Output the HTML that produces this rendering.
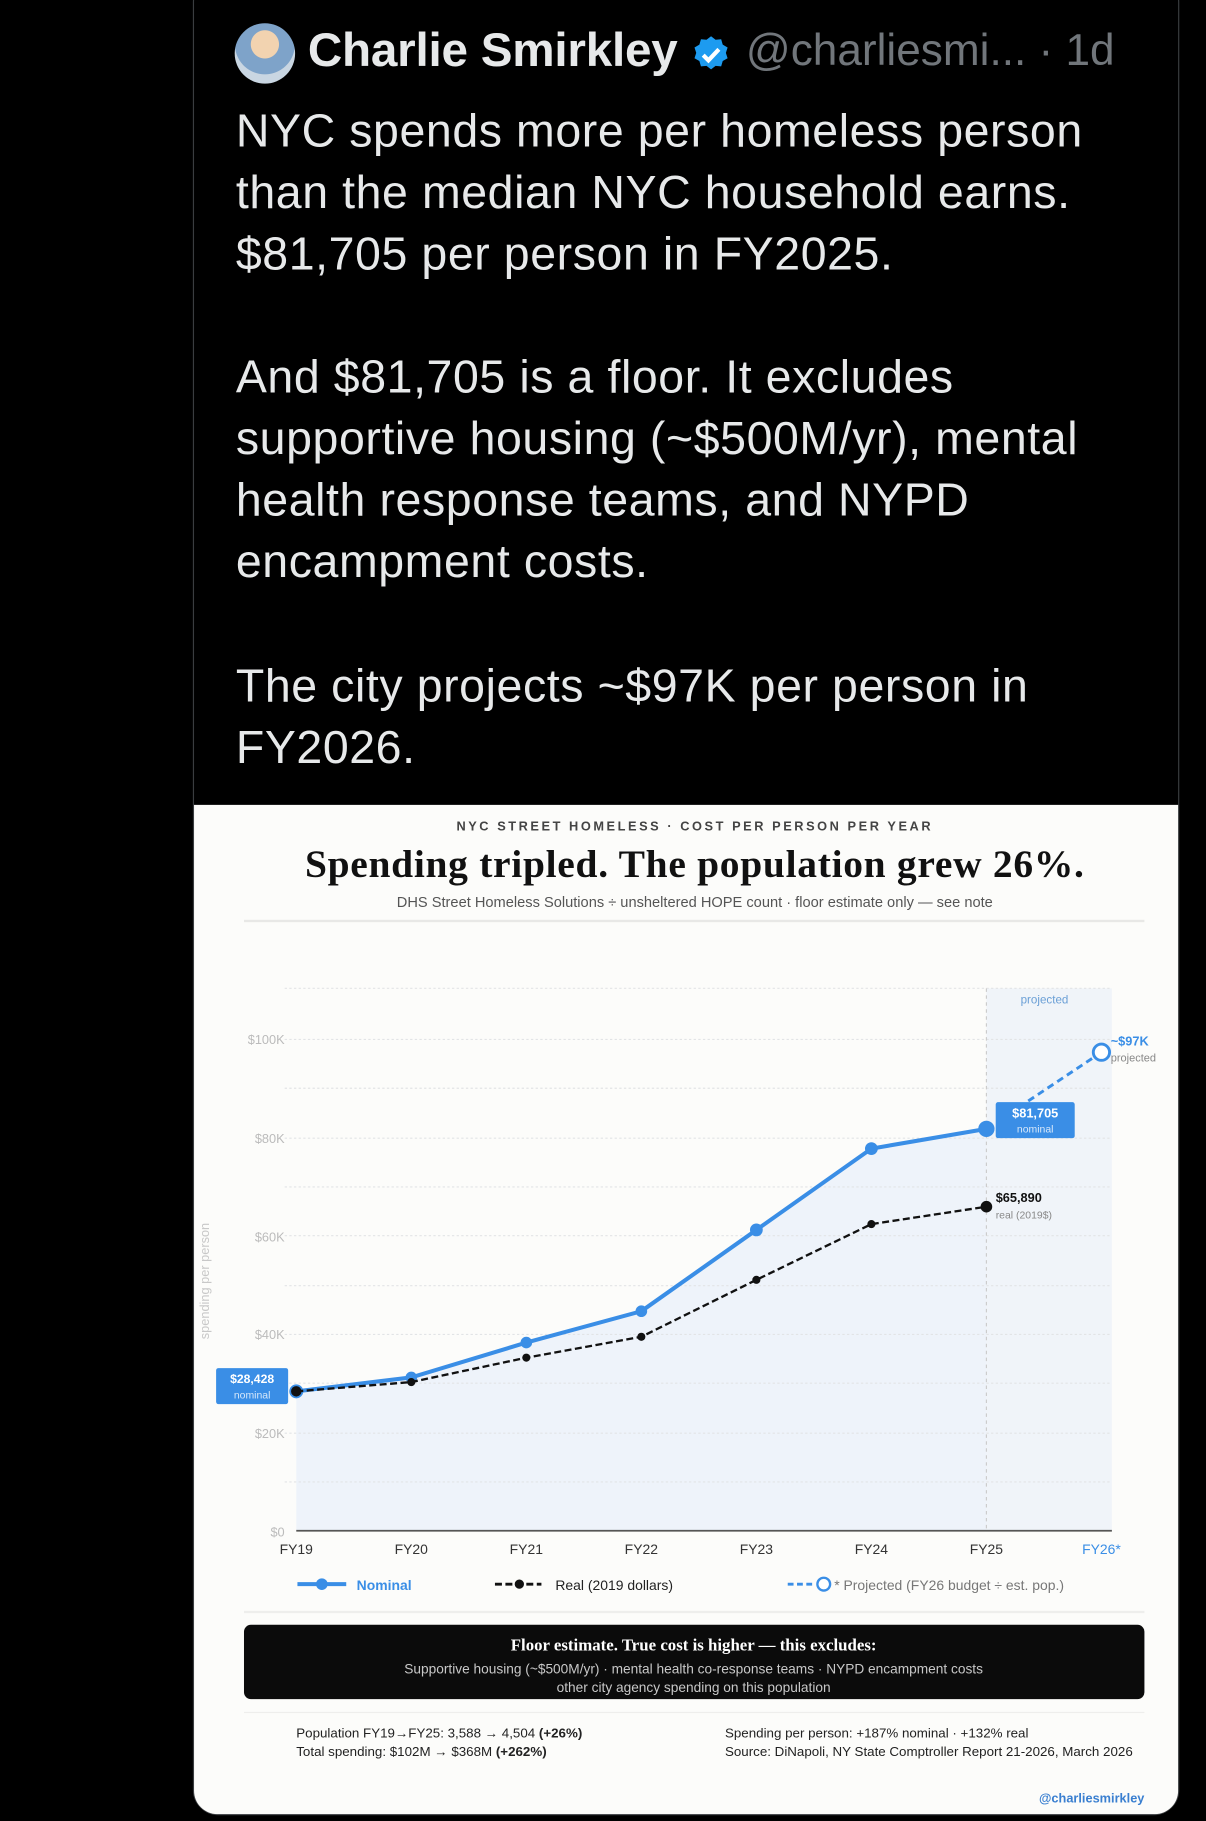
<!DOCTYPE html>
<html><head><meta charset="utf-8"><style>
*{margin:0;padding:0;box-sizing:border-box}
html,body{width:1206px;height:1821px;background:#000;overflow:hidden}
#w{position:absolute;left:0;top:0;width:1038px;height:1568px;transform:scale(1.16185,1.1614);transform-origin:0 0;font-family:"Liberation Sans",sans-serif}
.a{position:absolute;white-space:nowrap}
.tw{color:#e7e9ea;font-size:40px;letter-spacing:0.5px;line-height:53px;left:203px}
</style></head><body><div id="w">
<div class="a" style="left:166px;top:-20px;width:849px;height:1583px;border:1.5px solid #3a3d40;border-radius:22px;background:#000"></div>
<div class="a" style="left:167px;top:693px;width:847px;height:869px;background:#fcfcfa;border-radius:0 0 20px 20px"></div>
<div class="a" style="left:202px;top:20px;width:52px;height:52px;border-radius:50%;background:radial-gradient(circle at 50% 35%,#f2d3b0 0 28%,#7ea3c9 29% 60%,#c9d6e2 61%)"></div>
<div class="a" style="left:265px;top:20px;font-size:41px;font-weight:bold;color:#e7e9ea;letter-spacing:-0.2px">Charlie Smirkley</div>
<svg class="a" style="left:594px;top:29px" width="36" height="36" viewBox="0 0 24 24"><path d="M12 1.5l2.6 2 3.2-.3.9 3.1 2.8 1.6-1 3.1 1 3.1-2.8 1.6-.9 3.1-3.2-.3-2.6 2-2.6-2-3.2.3-.9-3.1-2.8-1.6 1-3.1-1-3.1 2.8-1.6.9-3.1 3.2.3z" fill="#1d9bf0"/><path d="M7.5 12.3l3 3 6-6.3" stroke="#fff" stroke-width="2.4" fill="none"/></svg>
<div class="a" style="left:642px;top:23px;font-size:38px;color:#71767b">@charliesmi... · 1d</div>
<div class="a tw" style="top:87px">NYC spends more per homeless person</div>
<div class="a tw" style="top:140px">than the median NYC household earns.</div>
<div class="a tw" style="top:193px">$81,705 per person in FY2025.</div>
<div class="a tw" style="top:299px">And $81,705 is a floor. It excludes</div>
<div class="a tw" style="top:352px">supportive housing (~$500M/yr), mental</div>
<div class="a tw" style="top:405px">health response teams, and NYPD</div>
<div class="a tw" style="top:458px">encampment costs.</div>
<div class="a tw" style="top:565px">The city projects ~$97K per person in</div>
<div class="a tw" style="top:618px">FY2026.</div>

<div class="a" style="left:167px;width:862px;text-align:center;top:706px;font-size:11px;font-weight:bold;letter-spacing:2.2px;color:#444">NYC STREET HOMELESS · COST PER PERSON PER YEAR</div>
<div class="a" style="left:167px;width:862px;text-align:center;top:726px;font-size:34px;letter-spacing:0.6px;font-weight:bold;font-family:'Liberation Serif',serif;color:#111">Spending tripled. The population grew 26%.</div>
<div class="a" style="left:167px;width:862px;text-align:center;top:770px;font-size:12.6px;color:#555">DHS Street Homeless Solutions ÷ unsheltered HOPE count · floor estimate only — see note</div>
<div class="a" style="left:210px;top:792px;width:775px;height:2px;background:#e8e8e6"></div>

<svg class="a" style="left:0;top:0" width="1038" height="1568" font-family="Liberation Sans, sans-serif">
<rect x="849" y="851" width="108" height="467" fill="#f0f4f9"/>
<polygon points="255,1198 354,1186 453,1156 552,1129 651,1059 750,989 849,972 849,1318 255,1318" fill="#eef3fa"/>
<g stroke="#e2e4e6" stroke-dasharray="2,2" stroke-width="1">
<line x1="245" y1="851" x2="957" y2="851"/><line x1="245" y1="895" x2="957" y2="895"/><line x1="245" y1="937" x2="957" y2="937"/><line x1="245" y1="980" x2="957" y2="980"/><line x1="245" y1="1022" x2="957" y2="1022"/><line x1="245" y1="1064" x2="957" y2="1064"/><line x1="245" y1="1107" x2="957" y2="1107"/><line x1="245" y1="1149" x2="957" y2="1149"/><line x1="245" y1="1191" x2="957" y2="1191"/><line x1="245" y1="1234" x2="957" y2="1234"/><line x1="245" y1="1276" x2="957" y2="1276"/></g>
<line x1="849" y1="851" x2="849" y2="1318" stroke="#ccc" stroke-dasharray="3,3"/>
<line x1="255" y1="1318" x2="957" y2="1318" stroke="#555" stroke-width="1.5"/>
<g font-size="11" fill="#bbb" text-anchor="end"><text x="245" y="899">$100K</text><text x="245" y="984">$80K</text><text x="245" y="1069">$60K</text><text x="245" y="1153">$40K</text><text x="245" y="1238">$20K</text><text x="245" y="1323">$0</text></g>
<text transform="translate(180,1103) rotate(-90)" font-size="11" fill="#c8c8c8" text-anchor="middle">spending per person</text>
<text x="899" y="864" font-size="10" fill="#6a9fd6" text-anchor="middle">projected</text>
<polyline points="255,1198 354,1186 453,1156 552,1129 651,1059 750,989 849,972" fill="none" stroke="#3a8ee6" stroke-width="3.5"/>
<g fill="#3a8ee6"><circle cx="354" cy="1186" r="5"/><circle cx="453" cy="1156" r="5"/><circle cx="552" cy="1129" r="5"/><circle cx="651" cy="1059" r="5.5"/><circle cx="750" cy="989" r="5.5"/><circle cx="849" cy="972" r="7"/><circle cx="255" cy="1198" r="6"/></g>
<polyline points="255,1198 354,1190 453,1169 552,1151 651,1102 750,1054 849,1039" fill="none" stroke="#111" stroke-width="2" stroke-dasharray="6,3"/>
<g fill="#111"><circle cx="255" cy="1198" r="4.5"/><circle cx="354" cy="1190" r="3.5"/><circle cx="453" cy="1169" r="3.5"/><circle cx="552" cy="1151" r="3.5"/><circle cx="651" cy="1102" r="3.5"/><circle cx="750" cy="1054" r="3.5"/><circle cx="849" cy="1039" r="5"/></g>
<line x1="885" y1="948" x2="942" y2="910" stroke="#3a8ee6" stroke-width="2.5" stroke-dasharray="6,4"/>
<circle cx="948" cy="906" r="7" fill="#fff" stroke="#3a8ee6" stroke-width="2.5"/>
<rect x="857" y="949" width="68" height="31" rx="2" fill="#3a8ee6"/>
<text x="891" y="962" font-size="11" font-weight="bold" fill="#fff" text-anchor="middle">$81,705</text>
<text x="891" y="975" font-size="9" fill="#d7e8fa" text-anchor="middle">nominal</text>
<rect x="186" y="1178" width="62" height="31" rx="2" fill="#3a8ee6"/>
<text x="217" y="1191" font-size="10.5" font-weight="bold" fill="#fff" text-anchor="middle">$28,428</text>
<text x="217" y="1204" font-size="9" fill="#d7e8fa" text-anchor="middle">nominal</text>
<text x="956" y="900" font-size="11" font-weight="bold" fill="#3a8ee6">~$97K</text>
<text x="956" y="914" font-size="9.5" fill="#888">projected</text>
<text x="857" y="1035" font-size="11" font-weight="bold" fill="#111">$65,890</text>
<text x="857" y="1049" font-size="9" fill="#888">real (2019$)</text>
<g font-size="12" fill="#333" text-anchor="middle"><text x="255" y="1338">FY19</text><text x="354" y="1338">FY20</text><text x="453" y="1338">FY21</text><text x="552" y="1338">FY22</text><text x="651" y="1338">FY23</text><text x="750" y="1338">FY24</text><text x="849" y="1338">FY25</text><text x="948" y="1338" fill="#3a8ee6">FY26*</text></g>
<line x1="256" y1="1364" x2="298" y2="1364" stroke="#3a8ee6" stroke-width="3.5"/><circle cx="277" cy="1364" r="5" fill="#3a8ee6"/>
<text x="307" y="1369" font-size="12" font-weight="bold" fill="#3a8ee6">Nominal</text>
<line x1="426" y1="1364" x2="466" y2="1364" stroke="#111" stroke-width="2.5" stroke-dasharray="6,3"/><circle cx="447" cy="1364" r="4" fill="#111"/>
<text x="478" y="1369" font-size="12" fill="#222">Real (2019 dollars)</text>
<line x1="678" y1="1364" x2="700" y2="1364" stroke="#3a8ee6" stroke-width="2.5" stroke-dasharray="5,3"/><circle cx="709" cy="1364" r="5.5" fill="#fff" stroke="#3a8ee6" stroke-width="2"/>
<text x="718" y="1369" font-size="12" fill="#777">* Projected (FY26 budget ÷ est. pop.)</text>
<rect x="210" y="1387" width="775" height="2" fill="#eeeeec"/>
<rect x="210" y="1399" width="775" height="64" rx="6" fill="#0b0b0b"/>
<text x="597" y="1421" font-size="14.5" font-weight="bold" font-family="Liberation Serif, serif" fill="#fff" text-anchor="middle">Floor estimate. True cost is higher — this excludes:</text>
<text x="597" y="1441" font-size="11.8" fill="#c8c8c8" text-anchor="middle">Supportive housing (~$500M/yr) · mental health co-response teams · NYPD encampment costs</text>
<text x="597" y="1457" font-size="11.8" fill="#c8c8c8" text-anchor="middle">other city agency spending on this population</text>
<rect x="210" y="1474" width="775" height="1" fill="#eeeeec"/>
<g font-size="11.5" fill="#222"><text x="255" y="1496">Population FY19→FY25: 3,588 → 4,504 <tspan font-weight="bold">(+26%)</tspan></text>
<text x="255" y="1512">Total spending: $102M → $368M <tspan font-weight="bold">(+262%)</tspan></text>
<text x="624" y="1496">Spending per person: +187% nominal · +132% real</text>
<text x="624" y="1512">Source: DiNapoli, NY State Comptroller Report 21-2026, March 2026</text></g>
<text x="985" y="1552" font-size="11" font-weight="bold" fill="#3a7fd0" text-anchor="end">@charliesmirkley</text>
</svg>
</div></body></html>
